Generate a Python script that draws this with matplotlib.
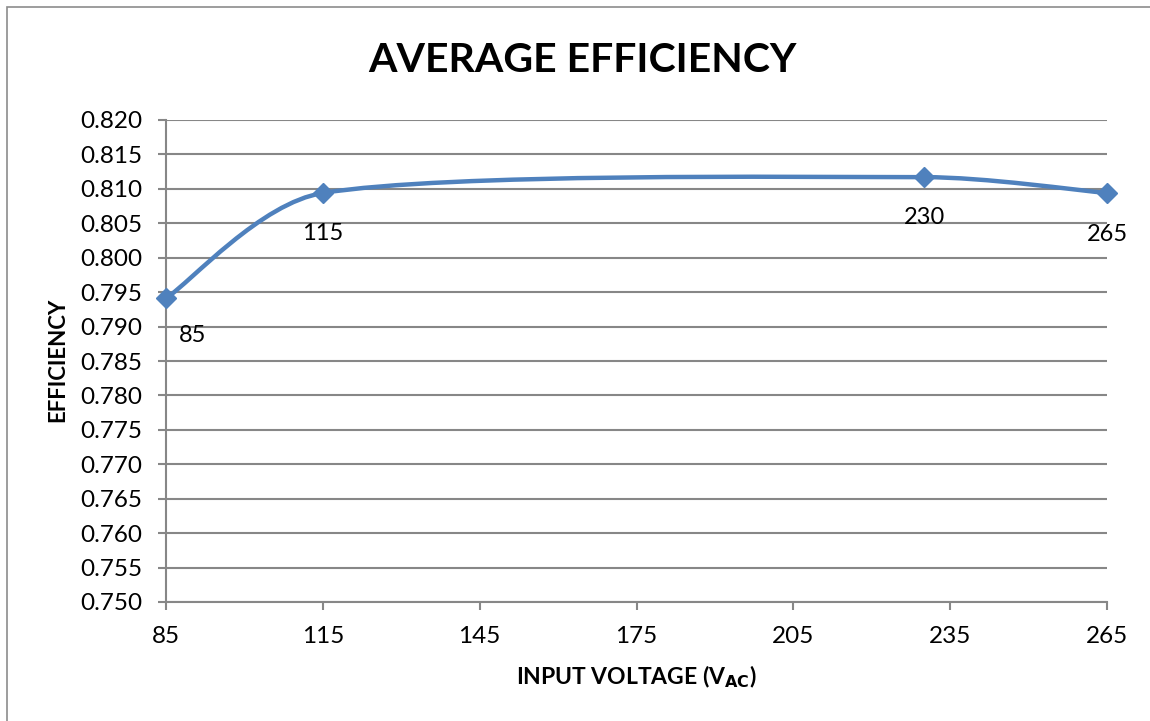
import matplotlib
matplotlib.use("Agg")
import matplotlib.pyplot as plt
import numpy as np
from matplotlib.path import Path
from matplotlib.patches import PathPatch, Rectangle

plt.rcParams["font.family"] = ["Lato", "DejaVu Sans"]

# ── Data ─────────────────────────────────────────────
voltage    = [85, 115, 230, 265]
efficiency = [0.7941, 0.8094, 0.8117, 0.8094]
labels     = ["85", "115", "230", "265"]
label_offsets = [(19, -27), (0, -29), (0, -29), (0, -30)]  # points

x_ticks = [85, 115, 145, 175, 205, 235, 265]
y_ticks = np.arange(0.750, 0.8201, 0.005)

LINE_COLOR = "#4F81BD"
GRID_COLOR = "#878787"

fig = plt.figure(figsize=(11.5, 7.21), dpi=100)
fig.patches.append(Rectangle((7 / 1150, -0.1), 1.2, (721 - 7) / 721 + 0.1,
                             transform=fig.transFigure, fill=False,
                             edgecolor="#8c8c8c", linewidth=1.2))

ax = fig.add_axes([166 / 1150, 1 - 602 / 721, (1107 - 166) / 1150, (602 - 120) / 721])
ax.set_xlim(85, 265)
ax.set_ylim(0.750, 0.820)

# ── Smoothed line (Excel-like Bezier, built in screen space) ─────
pts = ax.transData.transform(np.column_stack([voltage, efficiency]))
ext = np.vstack([pts[0], pts, pts[-1]])


def handle(tangent, seg_len):
    # Catmull-Rom handle, capped at a third of the segment length
    n = np.linalg.norm(tangent)
    h = min(n / 6, seg_len / 3)
    return tangent / n * h


verts = [pts[0]]
codes = [Path.MOVETO]
for i in range(len(pts) - 1):
    p0, p1, p2, p3 = ext[i], ext[i + 1], ext[i + 2], ext[i + 3]
    d12 = np.linalg.norm(p2 - p1)
    c1 = p1 + handle(p2 - p0, d12)
    c2 = p2 - handle(p3 - p1, d12)
    verts += [c1, c2, p2]
    codes += [Path.CURVE4] * 3
verts = ax.transData.inverted().transform(np.array(verts))
ax.add_patch(PathPatch(Path(verts, codes), facecolor="none",
                       edgecolor=LINE_COLOR, linewidth=3.2, zorder=3,
                       clip_on=False))
ax.plot(voltage, efficiency, linestyle="none", marker="D", markersize=10,
        color=LINE_COLOR, zorder=4, clip_on=False)

for x, y, lab, off in zip(voltage, efficiency, labels, label_offsets):
    ax.annotate(lab, (x, y), xytext=off, textcoords="offset points",
                ha="center", va="center", fontsize=17)

# ── Axes styling ─────────────────────────────────────
ax.set_xticks(x_ticks)
ax.set_yticks(y_ticks)
ax.set_yticklabels([f"{v:.3f}" for v in y_ticks])
ax.tick_params(axis="both", labelsize=17.5, color=GRID_COLOR, length=6, width=1.5)
ax.tick_params(axis="x", pad=11)
ax.tick_params(axis="y", pad=11)
ax.grid(axis="y", color=GRID_COLOR, linewidth=1.5)
ax.set_axisbelow(True)
for s in ["top", "right"]:
    ax.spines[s].set_visible(False)
for s in ["left", "bottom"]:
    ax.spines[s].set_color(GRID_COLOR)
    ax.spines[s].set_linewidth(1.5)

fig.text(582 / 1150, 1 - 60 / 721, "AVERAGE EFFICIENCY", ha="center", va="center",
         fontsize=29.5, fontweight="bold")
fig.text(636 / 1150, 1 - 677 / 721, r"INPUT VOLTAGE (V$_{\mathbf{AC}}$)", ha="center",
         va="center", fontsize=16.5, fontweight="bold")
fig.text(58 / 1150, 1 - 360 / 721, "EFFICIENCY", ha="center", va="center",
         rotation=90, fontsize=16, fontweight="bold")

plt.savefig("out.png", dpi=100)
plt.close()
